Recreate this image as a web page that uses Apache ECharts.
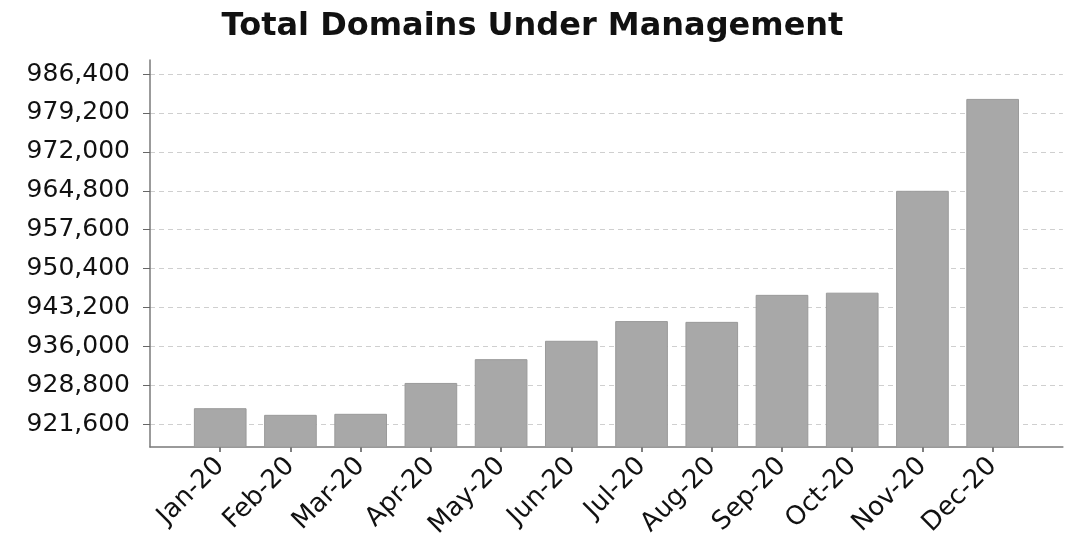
<!DOCTYPE html>
<html>
<head>
<meta charset="utf-8">
<script src="https://cdn.jsdelivr.net/npm/echarts@6/dist/echarts.min.js"></script>
<style>
html,body{margin:0;padding:0;background:#fff;}
#chart{width:1065px;height:544px;}
</style>
</head>
<body>
<div id="chart"></div>
<script>
const titleText = 'Total Domains Under Management';
const months = ['Jan-20','Feb-20','Mar-20','Apr-20','May-20','Jun-20','Jul-20','Aug-20','Sep-20','Oct-20','Nov-20','Dec-20'];
const domains = [924580, 923350, 923540, 929250, 933650, 937050, 940700, 940550, 945550, 945950, 964800, 981800];
const yTicks = [921600, 928800, 936000, 943200, 950400, 957600, 964800, 972000, 979200, 986400];
const yMin = 917400;
const yMax = 989000;

const cats = [''].concat(months, ['']);
const seriesData = ['-'].concat(domains, ['-']);

const chart = echarts.init(document.getElementById('chart'), null, {renderer: 'canvas'});
chart.setOption({
  animation: false,
  backgroundColor: '#ffffff',
  title: {
    text: titleText,
    left: 'center',
    top: 11,
    padding: 0,
    textStyle: {fontFamily: 'DejaVu Sans', fontWeight: 'bold', fontSize: 32, color: '#111'}
  },
  grid: {left: 150, right: 0, top: 60, bottom: 97, containLabel: false},
  xAxis: {
    type: 'category',
    data: cats,
    boundaryGap: false,
    axisLine: {show: true, lineStyle: {color: '#7a7a7a', width: 1.5}},
    axisTick: {show: true, length: 5, lineStyle: {color: '#555', width: 1.5},
      interval: function (i, v) { return v !== ''; }},
    axisLabel: {interval: 0, rotate: 45, margin: 15, fontFamily: 'DejaVu Sans', fontSize: 26, color: '#111'},
    splitLine: {show: false}
  },
  yAxis: {
    type: 'value',
    min: yMin,
    max: yMax,
    axisLine: {show: true, lineStyle: {color: '#7a7a7a', width: 1.5}},
    axisTick: {show: true, length: 7, customValues: yTicks, lineStyle: {color: '#666', width: 1}},
    axisLabel: {customValues: yTicks, margin: 20, fontFamily: 'DejaVu Sans', fontSize: 25, color: '#111',
      formatter: function (v) { return v.toLocaleString('en-US'); }},
    splitLine: {show: true, lineStyle: {color: '#cfcfcf', type: [5, 4], width: 1}}
  },
  series: [{
    type: 'bar',
    data: seriesData,
    barWidth: '75%',
    itemStyle: {color: '#a8a8a8', borderColor: '#9a9a9a', borderWidth: 1}
  }]
});
</script>
</body>
</html>
